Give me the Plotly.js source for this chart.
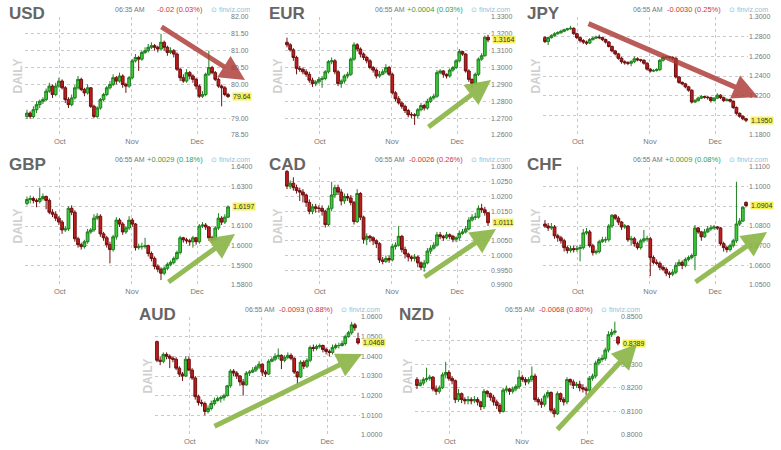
<!DOCTYPE html>
<html><head><meta charset="utf-8">
<script src="https://cdn.plot.ly/plotly-3.0.1.min.js"></script>
<style>html,body{margin:0;padding:0;background:#fff}#chart{width:781px;height:450px}</style>
</head><body><div id="chart"></div>
<script>
// ---------- DATA ----------
const names = ['USD','EUR','JPY','GBP','CAD','CHF','AUD','NZD'];
const timeLabels = ['06:35 AM','06:55 AM','06:55 AM','06:55 AM','06:55 AM','06:55 AM','06:55 AM','06:55 AM'];
const changeLabels = ['-0.02 (0.03%)','+0.0004 (0.03%)','-0.0030 (0.25%)','+0.0029 (0.18%)','-0.0026 (0.26%)','+0.0009 (0.08%)','-0.0093 (0.88%)','-0.0068 (0.80%)'];
const lastLabels = ['79.64','1.3164','1.1950','1.6197','1.0111','1.0904','1.0468','0.8389'];
const yRanges = [[78.5,82],[1.26,1.33],[1.18,1.30],[1.58,1.64],[0.99,1.03],[1.05,1.11],[1.00,1.06],[0.80,0.85]];
const yTickVals = [
  [78.5,79,79.5,80,80.5,81,81.5,82],
  [1.26,1.27,1.28,1.29,1.30,1.31,1.32,1.33],
  [1.18,1.20,1.22,1.24,1.26,1.28,1.30],
  [1.58,1.59,1.60,1.61,1.62,1.63,1.64],
  [0.99,0.995,1.0,1.005,1.01,1.015,1.02,1.025,1.03],
  [1.05,1.06,1.07,1.08,1.09,1.10,1.11],
  [1.00,1.01,1.02,1.03,1.04,1.05,1.06],
  [0.80,0.81,0.82,0.83,0.84,0.85]
];
// tick labels hidden behind the yellow last-price box are left blank
const yTickText = [
  ['78.50','79.00','','80.00','80.50','81.00','81.50','82.00'],
  ['1.2600','1.2700','1.2800','1.2900','1.3000','1.3100','1.3200','1.3300'],
  ['1.1800','','1.2200','1.2400','1.2600','1.2800','1.3000'],
  ['1.5800','1.5900','1.6000','1.6100','','1.6300','1.6400'],
  ['0.9900','0.9950','1.0000','1.0050','','1.0150','1.0200','1.0250','1.0300'],
  ['1.0500','1.0600','1.0700','1.0800','','1.1000','1.1100'],
  ['1.0000','1.0100','1.0200','1.0300','1.0400','1.0500','1.0600'],
  ['0.8000','0.8100','0.8200','0.8300','','0.8500']
];
const monthLabels = ['Oct','Nov','Dec'];
const monthPos = [10.3,32.9,53.3];
const trendUp = [false,true,false,true,true,true,true,true];

const usdOpen = [79.05,79.15,79.05,79.25,79.4,79.5,79.55,79.8,79.95,79.7,79.95,80.1,79.9,79.55,79.4,79.6,79.9,80.15,79.85,79.75,79.9,79.35,79.05,79.3,79.55,79.7,79.9,80.0,80.2,80.1,80.25,80.0,79.95,80.2,80.7,80.8,80.75,80.95,81.0,81.1,81.15,81.1,81.05,81.25,81.1,80.95,81.0,80.9,80.45,80.2,80.1,80.35,80.25,80.15,79.95,79.65,79.7,80.3,80.5,80.35,80.15,79.95,79.9,79.7];
const usdHigh = [79.25,79.2,79.35,79.5,79.55,79.62,79.88,80.05,80.0,80.05,80.2,80.15,79.95,79.62,79.7,79.98,80.25,80.2,79.9,80.0,79.92,79.4,79.35,79.6,79.75,79.95,80.1,80.3,80.25,80.35,80.3,80.05,80.25,80.75,80.9,80.85,81.0,81.1,81.2,81.25,81.2,81.15,81.5,81.3,81.15,81.1,81.05,80.95,80.5,80.3,80.45,80.4,80.3,80.2,80.0,79.8,80.35,81.0,80.55,80.4,80.2,80.0,79.95,79.75];
const usdLow = [78.98,78.98,79.0,79.15,79.3,79.42,79.5,79.75,79.6,79.65,79.9,79.85,79.45,79.3,79.35,79.55,79.85,79.8,79.65,79.7,79.3,79.0,79.0,79.25,79.5,79.65,79.85,79.95,80.0,80.05,79.9,79.75,79.9,80.15,80.65,80.4,80.7,80.9,80.95,81.05,81.0,80.95,81.0,81.0,80.85,80.9,80.8,80.4,80.1,80.05,80.05,80.15,80.05,79.85,79.6,79.6,79.65,80.25,80.3,80.1,79.9,79.35,79.65,79.6];
const usdClose = [79.15,79.05,79.25,79.4,79.5,79.55,79.8,79.95,79.7,79.95,80.1,79.9,79.55,79.4,79.6,79.9,80.15,79.85,79.75,79.9,79.35,79.05,79.3,79.55,79.7,79.9,80.0,80.2,80.1,80.25,80.0,79.95,80.2,80.7,80.8,80.75,80.95,81.0,81.1,81.15,81.1,81.05,81.25,81.1,80.95,81.0,80.9,80.45,80.2,80.1,80.35,80.25,80.15,79.95,79.65,79.7,80.3,80.5,80.35,80.15,79.95,79.9,79.7,79.64];

const eurOpen = [1.3150,1.3135,1.3105,1.3060,1.2995,1.2990,1.2975,1.2960,1.2925,1.2905,1.2915,1.2930,1.2935,1.2975,1.3035,1.3040,1.2975,1.2905,1.2920,1.2950,1.2960,1.3050,1.3135,1.3110,1.3080,1.3060,1.3040,1.3000,1.2985,1.2950,1.2960,1.2975,1.3000,1.2960,1.2850,1.2815,1.2790,1.2770,1.2745,1.2720,1.2720,1.2715,1.2750,1.2775,1.2760,1.2800,1.2820,1.2830,1.2970,1.2980,1.2960,1.2950,1.2985,1.3000,1.3040,1.3095,1.3080,1.2980,1.2930,1.2905,1.2960,1.3050,1.3070,1.3180];
const eurHigh = [1.3178,1.3145,1.3115,1.3070,1.3010,1.3000,1.2990,1.2975,1.2940,1.2925,1.2945,1.2950,1.2985,1.3045,1.3060,1.3050,1.2985,1.2930,1.2960,1.2975,1.3060,1.3150,1.3145,1.3120,1.3090,1.3070,1.3050,1.3010,1.2995,1.2980,1.2990,1.3020,1.3010,1.2970,1.2860,1.2830,1.2800,1.2780,1.2755,1.2735,1.2730,1.2760,1.2790,1.2785,1.2815,1.2830,1.2845,1.2985,1.2990,1.2985,1.2965,1.2995,1.3010,1.3050,1.3110,1.3100,1.3085,1.2990,1.2935,1.2970,1.3060,1.3085,1.3190,1.3195];
const eurLow = [1.3120,1.3095,1.3040,1.2960,1.2975,1.2960,1.2945,1.2910,1.2885,1.2890,1.2905,1.2880,1.2925,1.2965,1.3020,1.2960,1.2890,1.2880,1.2905,1.2935,1.2950,1.3040,1.3095,1.3060,1.3045,1.3025,1.2990,1.2970,1.2935,1.2940,1.2955,1.2965,1.2950,1.2840,1.2800,1.2780,1.2755,1.2730,1.2705,1.2700,1.2660,1.2700,1.2740,1.2745,1.2750,1.2790,1.2810,1.2820,1.2960,1.2940,1.2935,1.2940,1.2975,1.2990,1.3030,1.3070,1.2970,1.2915,1.2880,1.2900,1.2950,1.3040,1.3065,1.3150];
const eurClose = [1.3135,1.3105,1.3060,1.2995,1.2990,1.2975,1.2960,1.2925,1.2905,1.2915,1.2930,1.2935,1.2975,1.3035,1.3040,1.2975,1.2905,1.2920,1.2950,1.2960,1.3050,1.3135,1.3110,1.3080,1.3060,1.3040,1.3000,1.2985,1.2950,1.2960,1.2975,1.3000,1.2960,1.2850,1.2815,1.2790,1.2770,1.2745,1.2720,1.2720,1.2715,1.2750,1.2775,1.2760,1.2800,1.2820,1.2830,1.2970,1.2980,1.2960,1.2950,1.2985,1.3000,1.3040,1.3095,1.3080,1.2980,1.2930,1.2905,1.2960,1.3050,1.3070,1.3180,1.3164];

const jpyOpen = [1.2790,1.2750,1.2790,1.2810,1.2830,1.2840,1.2855,1.2870,1.2880,1.2885,1.2830,1.2790,1.2760,1.2745,1.2735,1.2770,1.2785,1.2795,1.2790,1.2770,1.2745,1.2700,1.2655,1.2625,1.2580,1.2545,1.2535,1.2530,1.2545,1.2575,1.2565,1.2560,1.2530,1.2470,1.2450,1.2455,1.2465,1.2560,1.2590,1.2595,1.2590,1.2580,1.2390,1.2335,1.2320,1.2290,1.2255,1.2135,1.2150,1.2175,1.2190,1.2185,1.2180,1.2150,1.2175,1.2205,1.2180,1.2150,1.2160,1.2145,1.2080,1.2020,1.1990,1.1965];
const jpyHigh = [1.2805,1.2800,1.2825,1.2845,1.2855,1.2870,1.2880,1.2890,1.2910,1.2895,1.2840,1.2800,1.2775,1.2760,1.2785,1.2800,1.2810,1.2820,1.2800,1.2780,1.2755,1.2710,1.2665,1.2635,1.2595,1.2560,1.2550,1.2560,1.2600,1.2590,1.2575,1.2570,1.2540,1.2480,1.2470,1.2480,1.2575,1.2610,1.2610,1.2605,1.2600,1.2590,1.2400,1.2345,1.2330,1.2300,1.2265,1.2165,1.2190,1.2205,1.2200,1.2195,1.2190,1.2185,1.2225,1.2215,1.2190,1.2175,1.2170,1.2150,1.2090,1.2030,1.2000,1.1975];
const jpyLow = [1.2735,1.2715,1.2780,1.2800,1.2820,1.2830,1.2845,1.2860,1.2870,1.2820,1.2775,1.2740,1.2725,1.2715,1.2725,1.2760,1.2775,1.2775,1.2755,1.2730,1.2690,1.2640,1.2610,1.2565,1.2525,1.2515,1.2510,1.2500,1.2530,1.2550,1.2540,1.2515,1.2455,1.2435,1.2440,1.2445,1.2450,1.2545,1.2575,1.2570,1.2560,1.2375,1.2320,1.2305,1.2275,1.2240,1.2120,1.2125,1.2140,1.2165,1.2170,1.2160,1.2130,1.2140,1.2165,1.2165,1.2135,1.2140,1.2130,1.2065,1.2005,1.1975,1.1950,1.1930];
const jpyClose = [1.2750,1.2790,1.2810,1.2830,1.2840,1.2855,1.2870,1.2880,1.2885,1.2830,1.2790,1.2760,1.2745,1.2735,1.2770,1.2785,1.2795,1.2790,1.2770,1.2745,1.2700,1.2655,1.2625,1.2580,1.2545,1.2535,1.2530,1.2545,1.2575,1.2565,1.2560,1.2530,1.2470,1.2450,1.2455,1.2465,1.2560,1.2590,1.2595,1.2590,1.2580,1.2390,1.2335,1.2320,1.2290,1.2255,1.2135,1.2150,1.2175,1.2190,1.2185,1.2180,1.2150,1.2175,1.2205,1.2180,1.2150,1.2160,1.2145,1.2080,1.2020,1.1990,1.1965,1.1950];

const gbpOpen = [1.6215,1.6235,1.6240,1.6230,1.6225,1.6240,1.6250,1.6230,1.6170,1.6160,1.6140,1.6120,1.6080,1.6085,1.6190,1.6170,1.6035,1.6005,1.5995,1.6020,1.6070,1.6080,1.6140,1.6150,1.6060,1.6040,1.6005,1.5980,1.6045,1.6130,1.6110,1.6070,1.6090,1.6130,1.6110,1.5990,1.5995,1.5995,1.6000,1.5960,1.5935,1.5895,1.5880,1.5860,1.5885,1.5905,1.5915,1.5935,1.5965,1.6040,1.6030,1.6025,1.6020,1.6040,1.6020,1.6100,1.6105,1.6095,1.6040,1.6030,1.6090,1.6140,1.6120,1.6145];
const gbpHigh = [1.6250,1.6255,1.6250,1.6240,1.6295,1.6265,1.6255,1.6240,1.6185,1.6175,1.6150,1.6130,1.6100,1.6200,1.6205,1.6180,1.6045,1.6015,1.6030,1.6085,1.6090,1.6160,1.6165,1.6160,1.6070,1.6050,1.6020,1.6055,1.6145,1.6140,1.6120,1.6100,1.6150,1.6140,1.6115,1.6010,1.6015,1.6040,1.6005,1.5970,1.5945,1.5905,1.5890,1.5895,1.5915,1.5925,1.5945,1.5975,1.6050,1.6045,1.6040,1.6035,1.6050,1.6045,1.6110,1.6120,1.6115,1.6100,1.6050,1.6100,1.6165,1.6150,1.6160,1.6205];
const gbpLow = [1.6205,1.6215,1.6215,1.6195,1.6215,1.6230,1.6185,1.6160,1.6145,1.6125,1.6105,1.6060,1.6070,1.6075,1.6155,1.6020,1.5990,1.5980,1.5985,1.6010,1.6060,1.6070,1.6130,1.6045,1.6025,1.5990,1.5910,1.5970,1.6030,1.6095,1.6055,1.6060,1.6080,1.6095,1.5975,1.5980,1.5980,1.5985,1.5945,1.5920,1.5880,1.5865,1.5825,1.5850,1.5875,1.5895,1.5905,1.5925,1.5955,1.6015,1.6010,1.6000,1.5990,1.6005,1.6010,1.6090,1.6080,1.6025,1.6015,1.6025,1.6080,1.6105,1.6110,1.6140];
const gbpClose = [1.6235,1.6240,1.6230,1.6225,1.6240,1.6250,1.6230,1.6170,1.6160,1.6140,1.6120,1.6080,1.6085,1.6190,1.6170,1.6035,1.6005,1.5995,1.6020,1.6070,1.6080,1.6140,1.6150,1.6060,1.6040,1.6005,1.5980,1.6045,1.6130,1.6110,1.6070,1.6090,1.6130,1.6110,1.5990,1.5995,1.5995,1.6000,1.5960,1.5935,1.5895,1.5880,1.5860,1.5885,1.5905,1.5915,1.5935,1.5965,1.6040,1.6030,1.6025,1.6020,1.6040,1.6020,1.6100,1.6105,1.6095,1.6040,1.6030,1.6090,1.6140,1.6120,1.6145,1.6197];

const cadOpen = [1.0285,1.0235,1.0245,1.0230,1.0220,1.0215,1.0205,1.0180,1.0150,1.0165,1.0160,1.0160,1.0150,1.0105,1.0160,1.0205,1.0230,1.0215,1.0185,1.0200,1.0195,1.0180,1.0115,1.0210,1.0130,1.0055,1.0065,1.0060,1.0050,1.0040,0.9985,0.9980,0.9990,0.9985,1.0030,1.0035,1.0065,1.0020,1.0005,0.9995,0.9990,0.9995,0.9975,0.9960,0.9975,1.0015,1.0025,1.0035,1.0070,1.0065,1.0060,1.0070,1.0065,1.0055,1.0060,1.0075,1.0080,1.0090,1.0120,1.0130,1.0130,1.0160,1.0155,1.0145];
const cadHigh = [1.0290,1.0255,1.0265,1.0240,1.0230,1.0225,1.0210,1.0190,1.0175,1.0175,1.0170,1.0170,1.0155,1.0170,1.0250,1.0240,1.0240,1.0225,1.0210,1.0210,1.0205,1.0185,1.0225,1.0215,1.0135,1.0075,1.0070,1.0065,1.0055,1.0045,0.9995,1.0000,1.0000,1.0040,1.0045,1.0100,1.0070,1.0030,1.0010,1.0000,1.0005,1.0000,0.9980,0.9985,1.0025,1.0035,1.0045,1.0080,1.0080,1.0070,1.0080,1.0075,1.0070,1.0065,1.0085,1.0090,1.0100,1.0130,1.0140,1.0145,1.0170,1.0175,1.0165,1.0145];
const cadLow = [1.0225,1.0225,1.0220,1.0210,1.0185,1.0180,1.0165,1.0140,1.0140,1.0145,1.0145,1.0135,1.0095,1.0100,1.0150,1.0195,1.0205,1.0170,1.0175,1.0185,1.0170,1.0105,1.0110,1.0120,1.0040,1.0035,1.0045,1.0035,1.0025,0.9975,0.9970,0.9975,0.9975,0.9980,1.0020,1.0030,1.0010,0.9990,0.9980,0.9980,0.9980,0.9960,0.9950,0.9945,0.9970,1.0005,1.0020,1.0030,1.0055,1.0050,1.0055,1.0055,1.0045,1.0045,1.0050,1.0070,1.0075,1.0085,1.0115,1.0120,1.0125,1.0145,1.0135,1.0100];
const cadClose = [1.0235,1.0245,1.0230,1.0220,1.0215,1.0205,1.0180,1.0150,1.0165,1.0160,1.0160,1.0150,1.0105,1.0160,1.0205,1.0230,1.0215,1.0185,1.0200,1.0195,1.0180,1.0115,1.0210,1.0130,1.0055,1.0065,1.0060,1.0050,1.0040,0.9985,0.9980,0.9990,0.9985,1.0030,1.0035,1.0065,1.0020,1.0005,0.9995,0.9990,0.9995,0.9975,0.9960,0.9975,1.0015,1.0025,1.0035,1.0070,1.0065,1.0060,1.0070,1.0065,1.0055,1.0060,1.0075,1.0080,1.0090,1.0120,1.0130,1.0130,1.0160,1.0155,1.0145,1.0111];

const chfOpen = [1.0810,1.0800,1.0790,1.0795,1.0750,1.0740,1.0725,1.0690,1.0675,1.0685,1.0680,1.0685,1.0690,1.0765,1.0770,1.0700,1.0665,1.0670,1.0720,1.0730,1.0730,1.0800,1.0855,1.0840,1.0820,1.0795,1.0800,1.0730,1.0735,1.0710,1.0690,1.0725,1.0735,1.0735,1.0640,1.0615,1.0610,1.0590,1.0580,1.0560,1.0555,1.0565,1.0600,1.0615,1.0600,1.0630,1.0640,1.0650,1.0790,1.0770,1.0745,1.0770,1.0785,1.0790,1.0795,1.0790,1.0710,1.0690,1.0680,1.0700,1.0725,1.0810,1.0825,1.0920];
const chfHigh = [1.0830,1.0815,1.0815,1.0805,1.0760,1.0750,1.0735,1.0700,1.0700,1.0700,1.0700,1.0705,1.0785,1.0790,1.0780,1.0710,1.0680,1.0730,1.0745,1.0745,1.0810,1.0860,1.0860,1.0850,1.0825,1.0810,1.0805,1.0750,1.0745,1.0720,1.0735,1.0780,1.0750,1.0745,1.0650,1.0630,1.0620,1.0600,1.0590,1.0570,1.0580,1.0615,1.0630,1.0625,1.0640,1.0650,1.0660,1.0805,1.0795,1.0775,1.0785,1.0800,1.0805,1.0805,1.0800,1.0795,1.0720,1.0700,1.0710,1.0735,1.1025,1.0840,1.0900,1.0925];
const chfLow = [1.0790,1.0775,1.0780,1.0735,1.0720,1.0710,1.0670,1.0660,1.0665,1.0665,1.0670,1.0620,1.0680,1.0755,1.0690,1.0650,1.0655,1.0660,1.0715,1.0715,1.0720,1.0790,1.0830,1.0805,1.0780,1.0785,1.0720,1.0700,1.0695,1.0680,1.0680,1.0715,1.0720,1.0545,1.0605,1.0600,1.0575,1.0570,1.0545,1.0535,1.0545,1.0555,1.0595,1.0580,1.0590,1.0620,1.0630,1.0575,1.0760,1.0725,1.0740,1.0765,1.0775,1.0780,1.0780,1.0700,1.0670,1.0665,1.0670,1.0690,1.0715,1.0800,1.0820,1.0895];
const chfClose = [1.0800,1.0790,1.0795,1.0750,1.0740,1.0725,1.0690,1.0675,1.0685,1.0680,1.0685,1.0690,1.0765,1.0770,1.0700,1.0665,1.0670,1.0720,1.0730,1.0730,1.0800,1.0855,1.0840,1.0820,1.0795,1.0800,1.0730,1.0735,1.0710,1.0690,1.0725,1.0735,1.0735,1.0640,1.0615,1.0610,1.0590,1.0580,1.0560,1.0555,1.0565,1.0600,1.0615,1.0600,1.0630,1.0640,1.0650,1.0790,1.0770,1.0745,1.0770,1.0785,1.0790,1.0795,1.0790,1.0710,1.0690,1.0680,1.0700,1.0725,1.0810,1.0825,1.0895,1.0904];

const audOpen = [1.0475,1.0380,1.0375,1.0410,1.0400,1.0390,1.0385,1.0340,1.0310,1.0300,1.0385,1.0330,1.0290,1.0195,1.0165,1.0160,1.0120,1.0135,1.0160,1.0175,1.0185,1.0190,1.0200,1.0250,1.0325,1.0315,1.0300,1.0270,1.0255,1.0315,1.0320,1.0330,1.0345,1.0360,1.0320,1.0310,1.0375,1.0385,1.0400,1.0405,1.0380,1.0395,1.0405,1.0390,1.0320,1.0295,1.0370,1.0350,1.0380,1.0445,1.0440,1.0450,1.0455,1.0435,1.0425,1.0420,1.0445,1.0455,1.0455,1.0465,1.0500,1.0520,1.0560,1.0490];
const audHigh = [1.0480,1.0400,1.0420,1.0420,1.0410,1.0400,1.0395,1.0350,1.0320,1.0400,1.0400,1.0340,1.0300,1.0205,1.0180,1.0170,1.0150,1.0175,1.0190,1.0195,1.0200,1.0210,1.0255,1.0335,1.0335,1.0325,1.0305,1.0285,1.0325,1.0330,1.0345,1.0355,1.0375,1.0365,1.0330,1.0385,1.0395,1.0415,1.0440,1.0410,1.0405,1.0420,1.0415,1.0395,1.0325,1.0380,1.0380,1.0390,1.0455,1.0460,1.0460,1.0465,1.0460,1.0445,1.0435,1.0460,1.0465,1.0470,1.0480,1.0510,1.0530,1.0575,1.0570,1.0520];
const audLow = [1.0370,1.0355,1.0365,1.0385,1.0340,1.0370,1.0330,1.0295,1.0275,1.0295,1.0325,1.0280,1.0180,1.0150,1.0145,1.0100,1.0110,1.0125,1.0150,1.0170,1.0165,1.0175,1.0195,1.0240,1.0300,1.0285,1.0250,1.0200,1.0250,1.0300,1.0315,1.0320,1.0335,1.0300,1.0295,1.0305,1.0370,1.0375,1.0385,1.0335,1.0370,1.0385,1.0380,1.0310,1.0255,1.0290,1.0335,1.0340,1.0370,1.0425,1.0430,1.0440,1.0420,1.0410,1.0400,1.0410,1.0435,1.0440,1.0450,1.0455,1.0495,1.0510,1.0530,1.0460];
const audClose = [1.0380,1.0375,1.0410,1.0400,1.0390,1.0385,1.0340,1.0310,1.0300,1.0385,1.0330,1.0290,1.0195,1.0165,1.0160,1.0120,1.0135,1.0160,1.0175,1.0185,1.0190,1.0200,1.0250,1.0325,1.0315,1.0300,1.0270,1.0255,1.0315,1.0320,1.0330,1.0345,1.0360,1.0320,1.0310,1.0375,1.0385,1.0400,1.0405,1.0380,1.0395,1.0405,1.0390,1.0320,1.0295,1.0370,1.0350,1.0380,1.0445,1.0440,1.0450,1.0455,1.0435,1.0425,1.0420,1.0445,1.0455,1.0455,1.0465,1.0500,1.0520,1.0560,1.0545,1.0468];

const nzdOpen = [0.8235,0.8210,0.8220,0.8235,0.8240,0.8245,0.8195,0.8185,0.8200,0.8255,0.8265,0.8240,0.8230,0.8150,0.8175,0.8150,0.8145,0.8150,0.8145,0.8150,0.8140,0.8120,0.8185,0.8175,0.8160,0.8140,0.8125,0.8100,0.8190,0.8195,0.8185,0.8195,0.8205,0.8245,0.8235,0.8225,0.8235,0.8250,0.8150,0.8140,0.8130,0.8165,0.8180,0.8105,0.8090,0.8175,0.8150,0.8140,0.8235,0.8225,0.8210,0.8215,0.8200,0.8195,0.8190,0.8240,0.8250,0.8305,0.8320,0.8325,0.8360,0.8425,0.8435,0.8415];
const nzdHigh = [0.8245,0.8235,0.8245,0.8285,0.8255,0.8250,0.8210,0.8210,0.8265,0.8310,0.8275,0.8250,0.8235,0.8195,0.8180,0.8160,0.8165,0.8160,0.8165,0.8160,0.8145,0.8195,0.8190,0.8180,0.8170,0.8150,0.8135,0.8200,0.8210,0.8200,0.8205,0.8215,0.8275,0.8255,0.8245,0.8245,0.8290,0.8260,0.8160,0.8155,0.8175,0.8190,0.8185,0.8115,0.8185,0.8180,0.8160,0.8245,0.8240,0.8235,0.8225,0.8230,0.8215,0.8205,0.8250,0.8260,0.8315,0.8330,0.8340,0.8370,0.8440,0.8450,0.8480,0.8420];
const nzdLow = [0.8195,0.8205,0.8210,0.8225,0.8230,0.8185,0.8170,0.8175,0.8195,0.8240,0.8230,0.8215,0.8135,0.8140,0.8135,0.8130,0.8130,0.8130,0.8135,0.8125,0.8105,0.8110,0.8160,0.8145,0.8125,0.8110,0.8090,0.8095,0.8180,0.8170,0.8175,0.8185,0.8195,0.8225,0.8210,0.8215,0.8225,0.8140,0.8125,0.8115,0.8120,0.8155,0.8095,0.8075,0.8085,0.8140,0.8125,0.8130,0.8210,0.8195,0.8200,0.8185,0.8180,0.8170,0.8180,0.8230,0.8240,0.8295,0.8310,0.8315,0.8350,0.8415,0.8425,0.8380];
const nzdClose = [0.8210,0.8220,0.8235,0.8240,0.8245,0.8195,0.8185,0.8200,0.8255,0.8265,0.8240,0.8230,0.8150,0.8175,0.8150,0.8145,0.8150,0.8145,0.8150,0.8140,0.8120,0.8185,0.8175,0.8160,0.8140,0.8125,0.8100,0.8190,0.8195,0.8185,0.8195,0.8205,0.8245,0.8235,0.8225,0.8235,0.8250,0.8150,0.8140,0.8130,0.8165,0.8180,0.8105,0.8090,0.8175,0.8150,0.8140,0.8235,0.8225,0.8210,0.8215,0.8200,0.8195,0.8190,0.8240,0.8250,0.8305,0.8320,0.8325,0.8360,0.8425,0.8435,0.8440,0.8389];

// ---------- LAYOUT / DRAWING ----------
const opens = [usdOpen,eurOpen,jpyOpen,gbpOpen,cadOpen,chfOpen,audOpen,nzdOpen];
const highs = [usdHigh,eurHigh,jpyHigh,gbpHigh,cadHigh,chfHigh,audHigh,nzdHigh];
const lows = [usdLow,eurLow,jpyLow,gbpLow,cadLow,chfLow,audLow,nzdLow];
const closes = [usdClose,eurClose,jpyClose,gbpClose,cadClose,chfClose,audClose,nzdClose];

const W = 781, H = 450;
const origins = [[0,0],[260,0],[518,0],[0,150],[260,150],[518,150],[130,300],[390,300]];
// arrow tail/head offsets relative to panel origin
const arrows = [
  [[160,26],[245,80]],
  [[167,128],[231,80]],
  [[69,23],[240,97]],
  [[167,133],[235,84]],
  [[163,128],[236,79]],
  [[176,133],[249,82]],
  [[83,127],[232,54]],
  [[166,131],[247,44]]
];
const px = x => x / W;
const py = y => 1 - y / H;
const FONT = 'Liberation Sans, Arial, sans-serif';

const traces = [];
const annotations = [];
const layout = {
  width: W, height: H,
  margin: {l:0, r:0, t:0, b:0},
  paper_bgcolor: '#ffffff', plot_bgcolor: '#ffffff',
  showlegend: false,
  boxgap: 0.15, boxgroupgap: 0,
  font: {family: FONT, color: '#777'},
  annotations: annotations
};

names.forEach((name, i) => {
  const k = i + 1, sx = k === 1 ? '' : String(k);
  const [ox, oy] = origins[i];
  const L = ox + 25, R = ox + 230, T = oy + 17, B = oy + 135;
  const n = closes[i].length;
  const idx = Array.from({length: n}, (_, j) => j);
  traces.push({
    type: 'candlestick',
    x: idx, open: opens[i], high: highs[i], low: lows[i], close: closes[i],
    xaxis: 'x' + sx, yaxis: 'y' + sx,
    increasing: {line: {color: '#1f7f1f', width: 1}, fillcolor: '#3cca3c'},
    decreasing: {line: {color: '#6e1010', width: 1}, fillcolor: '#c01c1f'},
    whiskerwidth: 0,
    hoverinfo: 'skip'
  });
  layout['xaxis' + sx] = {
    domain: [px(L), px(R)], anchor: 'y' + sx,
    range: [-0.62, n - 0.38],
    tickmode: 'array', tickvals: [-0.6].concat(monthPos), ticktext: [''].concat(monthLabels),
    showgrid: true, gridcolor: '#c8c8c8', griddash: 'dot', gridwidth: 1,
    zeroline: false, showline: false, ticks: '',
    tickfont: {family: FONT, size: 7.5, color: '#777'},
    rangeslider: {visible: false}, fixedrange: true
  };
  layout['yaxis' + sx] = {
    domain: [py(B), py(T)], anchor: 'x' + sx, side: 'right',
    range: yRanges[i],
    tickmode: 'array', tickvals: yTickVals[i], ticktext: yTickText[i],
    showgrid: true, gridcolor: '#c8c8c8', griddash: 'dot', gridwidth: 1,
    zeroline: false, showline: false, ticks: '',
    tickfont: {family: FONT, size: 7, color: '#777'},
    fixedrange: true
  };
  // title
  annotations.push({xref:'paper', yref:'paper', x: px(ox + 7), y: py(oy + 14), xanchor:'left', yanchor:'middle',
    text: name, showarrow:false, font:{family: FONT, size: 17, weight: 'bold', color: '#666666'}});
  // DAILY
  annotations.push({xref:'paper', yref:'paper', x: px(ox + 17.5), y: py(oy + 76), xanchor:'center', yanchor:'middle',
    text: 'DAILY', textangle: -90, showarrow:false, font:{family: FONT, size: 12, weight: 'bold', color: '#d0d0d0'}});
  // header: time, change, source
  annotations.push({xref:'paper', yref:'paper', x: px(ox + 147), y: py(oy + 9.5), xanchor:'right', yanchor:'middle',
    text: timeLabels[i], showarrow:false, font:{family: FONT, size: 7, color: '#777'}});
  annotations.push({xref:'paper', yref:'paper', x: px(ox + 205), y: py(oy + 9.5), xanchor:'right', yanchor:'middle',
    text: changeLabels[i], showarrow:false,
    font:{family: FONT, size: 7.5, color: changeLabels[i].charAt(0) === '-' ? '#d2352e' : '#3a9d3a'}});
  annotations.push({xref:'paper', yref:'paper', x: px(ox + 209), y: py(oy + 9.5), xanchor:'left', yanchor:'middle',
    text: '⊙ finviz.com', showarrow:false, font:{family: FONT, size: 7, color: '#8fc1dc'}});
  // last price highlight
  annotations.push({xref:'paper', yref:'y' + sx, x: px(R + 2), y: closes[i][n - 1], xanchor:'left', yanchor:'middle',
    text: lastLabels[i], showarrow:false, bgcolor: '#f7f25a', borderpad: 0,
    font:{family: FONT, size: 7, color: '#333'}});
  // trend arrow
  const [tail, head] = arrows[i];
  annotations.push({xref:'paper', yref:'paper', x: px(ox + head[0]), y: py(oy + head[1]),
    ax: tail[0] - head[0], ay: tail[1] - head[1], axref:'pixel', ayref:'pixel',
    text: '', showarrow: true, arrowhead: 2, arrowsize: 1.0, arrowwidth: 5, standoff: 0,
    arrowcolor: trendUp[i] ? 'rgba(140,182,72,0.92)' : 'rgba(172,58,52,0.82)'});
});

Plotly.newPlot('chart', traces, layout, {staticPlot: true, displayModeBar: false});
</script>
</body></html>
